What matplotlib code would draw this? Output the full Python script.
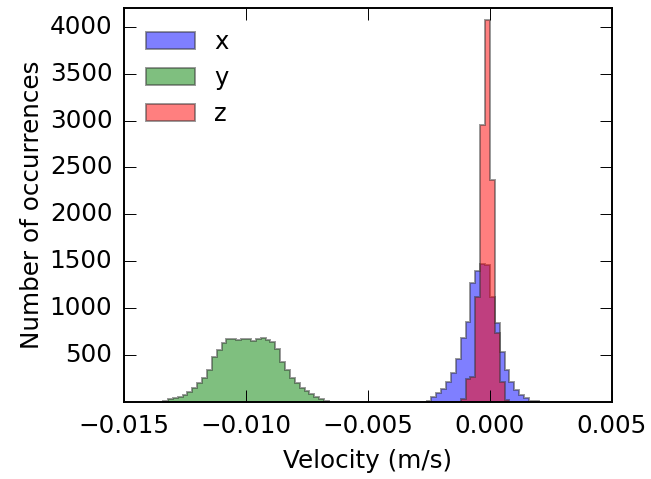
import numpy as np
import matplotlib
matplotlib.use('Agg')
import matplotlib.pyplot as plt

plt.style.use('classic')
plt.rcParams['font.family'] = ['DejaVu Sans']

# bin width shared by all three series (m/s)
bin_width = 0.0002

# x velocity
x_start = -0.0026
x_counts = [8, 56, 94, 140, 208, 309, 460, 682, 856, 1269, 1395, 1468,
            1462, 1123, 839, 536, 341, 216, 128, 75, 39, 15, 6]

# y velocity
y_start = -0.0134
y_counts = [10, 32, 40, 55, 75, 110, 153, 199, 252, 340, 483, 554, 632, 668,
            672, 661, 672, 668, 654, 672, 679, 661, 640, 560, 430, 340, 260,
            200, 150, 115, 80, 55, 35, 10]

# z velocity
z_start = -0.0012
z_counts = [30, 250, 270, 1119, 2953, 4074, 2367, 735, 216, 20]

xticks = [-0.015, -0.010, -0.005, 0.000, 0.005]
yticks = [500, 1000, 1500, 2000, 2500, 3000, 3500, 4000]


def edges(start, counts):
    return start + bin_width * np.arange(len(counts) + 1)


fig = plt.figure(figsize=(651 / 140, 479 / 140), dpi=140)
ax = fig.add_axes([0.1905, 0.1608, 0.7495, 0.8225])

for start, counts, col, lab in [(x_start, x_counts, 'b', 'x'),
                                (y_start, y_counts, 'g', 'y'),
                                (z_start, z_counts, 'r', 'z')]:
    e = edges(start, counts)
    ax.hist(e[:-1] + bin_width / 2, bins=e, weights=counts, histtype='stepfilled',
            alpha=0.5, color=col, ec='0.2', lw=1, label=lab)

ax.set_xlim(-0.015, 0.005)
ax.set_ylim(0, 4200)
ax.set_xticks(xticks)
ax.set_yticks(yticks)
ax.tick_params(length=6, labelsize=12.7, pad=6)
ax.set_xlabel('Velocity (m/s)', fontsize=12.7, labelpad=6)
ax.set_ylabel('Number of occurrences', fontsize=12.7, labelpad=3)
ax.legend(loc='upper left', frameon=False, fontsize=12.5)

fig.savefig('out.png', dpi=140, facecolor='white')
